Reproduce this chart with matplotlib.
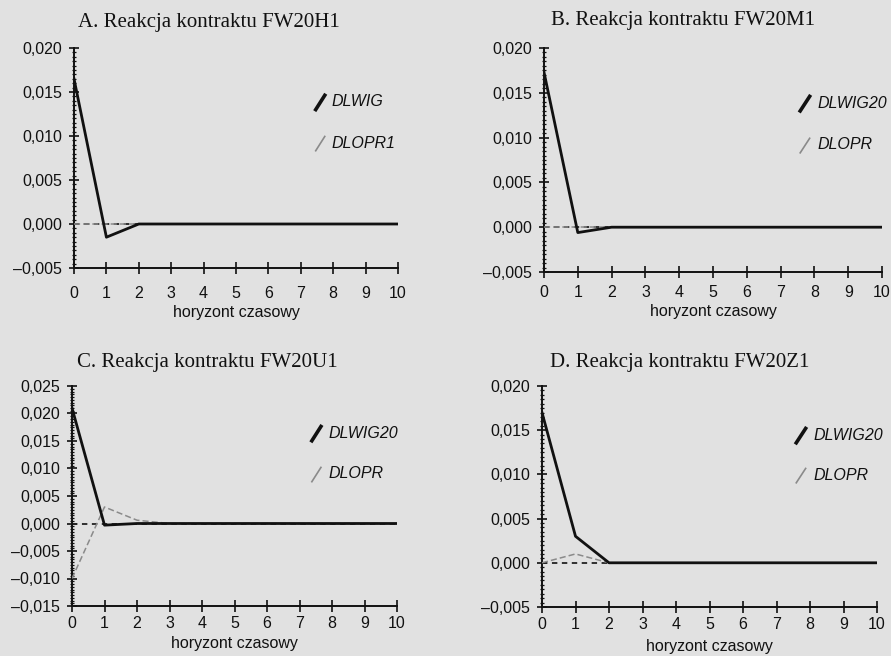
import matplotlib
matplotlib.use("Agg")
import matplotlib.pyplot as plt
import numpy as np
from matplotlib.ticker import FixedLocator, FuncFormatter, MultipleLocator

horizon = list(range(11))

titles = ["A. Reakcja kontraktu FW20H1", "B. Reakcja kontraktu FW20M1",
          "C. Reakcja kontraktu FW20U1", "D. Reakcja kontraktu FW20Z1"]
names_main = ["DLWIG", "DLWIG20", "DLWIG20", "DLWIG20"]
names_second = ["DLOPR1", "DLOPR", "DLOPR", "DLOPR"]

a_main = [0.0165, -0.0015, 0.0, 0, 0, 0, 0, 0, 0, 0, 0]
a_second = [0.0, 0.0, 0.0, 0, 0, 0, 0, 0, 0, 0, 0]
b_main = [0.0173, -0.0006, 0.0, 0, 0, 0, 0, 0, 0, 0, 0]
b_second = [0.0, 0.0, 0.0, 0, 0, 0, 0, 0, 0, 0, 0]
c_main = [0.021, -0.0003, 0.0, 0, 0, 0, 0, 0, 0, 0, 0]
c_second = [-0.010, 0.003, 0.0006, 0, 0, 0, 0, 0, 0, 0, 0]
d_main = [0.017, 0.003, 0.0, 0, 0, 0, 0, 0, 0, 0, 0]
d_second = [0.0, 0.001, 0.0, 0, 0, 0, 0, 0, 0, 0, 0]

mains = [a_main, b_main, c_main, d_main]
seconds = [a_second, b_second, c_second, d_second]

ylims = [(-0.005, 0.020), (-0.005, 0.020), (-0.015, 0.025), (-0.005, 0.020)]
yticks = [np.arange(-0.005, 0.0201, 0.005), np.arange(-0.005, 0.0201, 0.005),
          np.arange(-0.015, 0.0251, 0.005), np.arange(-0.005, 0.0201, 0.005)]

rects = [
    [74/891, 1-268/656, 324/891, 220/656],
    [544/891, 1-272/656, 338/891, 224/656],
    [72/891, 1-606/656, 325/891, 220/656],
    [542/891, 1-607/656, 335/891, 221/656],
]
title_pos = [(209, 23), (683, 21), (207, 362), (680, 362)]
xpads = [9, 5.5, 3, 3.5]
lpads = [3, 3, 4, 5]
leg_pos = [
    (0.796, 0.755, 0.568),
    (0.808, 0.754, 0.567),
    (0.788, 0.786, 0.600),
    (0.809, 0.778, 0.597),
]

bg = "#e1e1e1"
fig = plt.figure(figsize=(8.91, 6.56), dpi=100, facecolor=bg)

def fmt(v, pos):
    s = f"{abs(v):.3f}".replace(".", ",")
    if v < -1e-9:
        s = "\u2013" + s
    return s

for i in range(4):
    ax = fig.add_axes(rects[i])
    ax.set_facecolor(bg)
    ax.axhline(0, color="#222222", lw=1.3, ls=(0, (3, 2.5)), zorder=2)
    ax.plot(horizon, seconds[i], color="#8a8a8a", lw=1.1, ls=(0, (4, 2)), zorder=3)
    ax.plot(horizon, mains[i], color="#111111", lw=2.0, zorder=4)
    ax.set_xlim(0, 10)
    ax.set_ylim(*ylims[i])
    ax.set_xticks(horizon)
    ax.yaxis.set_major_locator(FixedLocator(yticks[i]))
    ax.yaxis.set_minor_locator(MultipleLocator(0.0005))
    ax.yaxis.set_major_formatter(FuncFormatter(fmt))
    for s in ["top", "right"]:
        ax.spines[s].set_visible(False)
    for s in ["left", "bottom"]:
        ax.spines[s].set_linewidth(1.4)
        ax.spines[s].set_color("#111111")
    ax.tick_params(axis="x", direction="inout", length=8, width=1.2, pad=xpads[i],
                   labelsize=11.5, colors="#111111")
    ax.tick_params(axis="y", which="major", direction="inout", length=7, width=1.2,
                   pad=5, labelsize=11.5, colors="#111111")
    ax.tick_params(axis="y", which="minor", direction="inout", length=3, width=0.9,
                   colors="#111111")
    for lab in ax.get_xticklabels() + ax.get_yticklabels():
        lab.set_family("Liberation Sans")
    ax.set_xlabel("horyzont czasowy", family="Liberation Sans", fontsize=11.5,
                  labelpad=lpads[i], color="#111111")
    tx_, ty_ = title_pos[i]
    fig.text(tx_ / 891, 1 - ty_ / 656, titles[i], family="Liberation Serif",
             fontsize=15, color="#111111", ha="center", va="center")
    tx, y1, y2 = leg_pos[i]
    ax.plot([tx - 0.05, tx - 0.022], [y1 - 0.035, y1 + 0.03], transform=ax.transAxes,
            color="#111111", lw=2.6, clip_on=False)
    ax.plot([tx - 0.05, tx - 0.022], [y2 - 0.035, y2 + 0.03], transform=ax.transAxes,
            color="#8a8a8a", lw=1.2, clip_on=False)
    ax.text(tx, y1, names_main[i], transform=ax.transAxes, family="Liberation Sans",
            style="italic", fontsize=11.5, va="center", ha="left", color="#111111")
    ax.text(tx, y2, names_second[i], transform=ax.transAxes, family="Liberation Sans",
            style="italic", fontsize=11.5, va="center", ha="left", color="#111111")

fig.savefig("out.png", dpi=100, facecolor=bg)
